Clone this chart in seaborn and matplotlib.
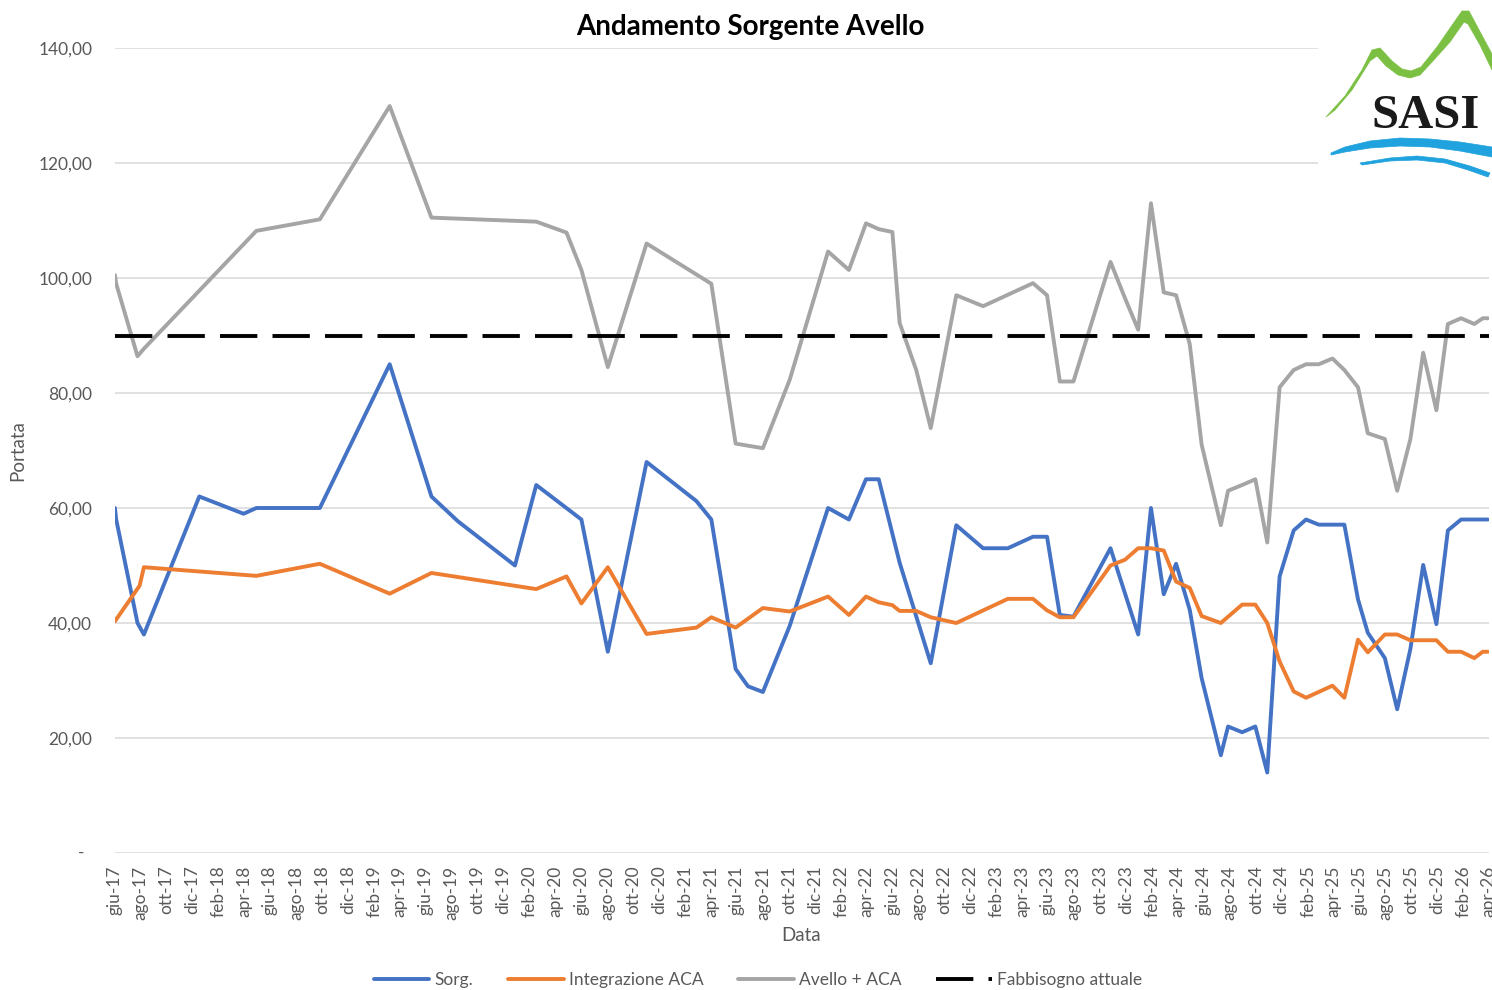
import matplotlib
matplotlib.use("Agg")
import matplotlib.pyplot as plt
import matplotlib.dates as mdates
from matplotlib.ticker import FuncFormatter, MultipleLocator
from matplotlib.lines import Line2D
from matplotlib.patches import Polygon
import pandas as pd
import seaborn as sns

# ---- data -------------------------------------------------------------
sorg_dates = [
    "2017-06-02", "2017-06-05", "2017-07-25", "2017-08-09", "2017-12-17",
    "2018-03-31", "2018-04-30", "2018-09-26", "2019-03-09", "2019-06-15",
    "2019-08-16", "2019-12-28", "2020-02-16", "2020-06-01", "2020-08-02",
    "2020-11-01", "2021-02-26", "2021-04-02", "2021-05-29", "2021-06-27",
    "2021-08-01", "2021-10-03", "2022-01-01", "2022-02-19", "2022-03-31",
    "2022-04-30", "2022-06-18", "2022-08-30", "2022-10-29", "2022-12-31",
    "2023-02-27", "2023-04-27", "2023-05-30", "2023-06-29", "2023-07-31",
    "2023-10-26", "2023-12-30", "2024-01-29", "2024-02-28", "2024-03-28",
    "2024-04-29", "2024-05-27", "2024-07-11", "2024-07-28", "2024-08-30",
    "2024-09-30", "2024-10-28", "2024-11-26", "2024-12-29", "2025-01-27",
    "2025-02-26", "2025-04-27", "2025-05-29", "2025-06-21", "2025-07-31",
    "2025-08-29", "2025-09-29", "2025-10-29", "2025-11-29", "2025-12-26",
    "2026-01-26", "2026-03-30",
]
sorg_values = [
    60, 58, 40, 38, 62,
    59, 60, 60, 85, 62,
    57.7, 50, 64, 58, 35,
    68, 61.2, 58, 32, 29,
    28, 39.5, 60, 58, 65,
    65, 50.5, 33, 57, 53,
    53, 55, 55, 41.4, 41.1,
    53, 38, 60, 45, 50.3,
    42.3, 30.4, 17, 22, 21,
    22, 14, 48.1, 56.1, 58,
    57.1, 57.1, 44.1, 38.3, 33.9,
    25, 35.5, 50.1, 39.8, 56.1,
    58, 58,
]

aca_dates = [
    "2017-06-02", "2017-07-30", "2017-08-09", "2018-04-30", "2018-09-26",
    "2019-03-09", "2019-06-15", "2020-02-16", "2020-04-27", "2020-06-01",
    "2020-08-02", "2020-11-01", "2021-02-26", "2021-04-02", "2021-05-29",
    "2021-08-01", "2021-10-03", "2022-01-01", "2022-02-19", "2022-03-31",
    "2022-04-30", "2022-06-01", "2022-06-18", "2022-07-27", "2022-08-30",
    "2022-10-29", "2023-02-27", "2023-04-27", "2023-05-30", "2023-06-29",
    "2023-07-31", "2023-10-26", "2023-11-29", "2023-12-30", "2024-01-29",
    "2024-02-28", "2024-03-28", "2024-04-29", "2024-05-27", "2024-07-11",
    "2024-08-30", "2024-09-30", "2024-10-28", "2024-11-26", "2024-12-29",
    "2025-01-27", "2025-03-30", "2025-04-27", "2025-05-29", "2025-06-21",
    "2025-07-31", "2025-08-29", "2025-09-29", "2025-11-29", "2025-12-26",
    "2026-01-26", "2026-02-26", "2026-03-18", "2026-03-30",
]
aca_values = [
    40.3, 46.5, 49.7, 48.2, 50.3,
    45.1, 48.7, 45.9, 48.1, 43.4,
    49.7, 38.1, 39.2, 41, 39.2,
    42.6, 42, 44.6, 41.4, 44.6,
    43.6, 43.1, 42.1, 42.1, 41,
    40, 44.2, 44.2, 42.2, 41,
    41, 50, 51, 53, 53,
    52.6, 47.2, 46.1, 41.2, 40,
    43.2, 43.2, 40, 33.3, 28.1,
    27, 29.1, 27, 37.1, 34.9,
    38, 38, 37, 37, 35,
    35, 33.9, 35, 35,
]

tot_dates = [
    "2017-06-02", "2017-06-05", "2017-07-25", "2017-08-09", "2018-04-30",
    "2018-09-26", "2019-03-09", "2019-06-15", "2020-02-16", "2020-04-27",
    "2020-06-01", "2020-08-02", "2020-11-01", "2021-04-02", "2021-05-29",
    "2021-08-01", "2021-10-03", "2022-01-01", "2022-02-19", "2022-03-31",
    "2022-04-30", "2022-06-01", "2022-06-18", "2022-07-27", "2022-08-30",
    "2022-10-29", "2022-12-31", "2023-04-27", "2023-05-30", "2023-06-29",
    "2023-07-31", "2023-10-26", "2023-11-29", "2023-12-30", "2024-01-29",
    "2024-02-28", "2024-03-28", "2024-04-29", "2024-05-27", "2024-07-11",
    "2024-07-28", "2024-08-30", "2024-09-30", "2024-10-28", "2024-11-26",
    "2024-12-29", "2025-01-27", "2025-02-26", "2025-03-30", "2025-04-27",
    "2025-05-29", "2025-06-21", "2025-07-31", "2025-08-29", "2025-09-29",
    "2025-10-29", "2025-11-29", "2025-12-26", "2026-01-26", "2026-02-26",
    "2026-03-18", "2026-03-30",
]
tot_values = [
    100.5, 99, 86.4, 87.7, 108.2,
    110.2, 129.9, 110.5, 109.8, 107.9,
    101.4, 84.5, 106, 99, 71.2,
    70.4, 82.3, 104.6, 101.4, 109.5,
    108.5, 108, 92.2, 84, 73.9,
    97, 95.1, 99.1, 97, 82,
    82, 102.8, 96.5, 91, 113,
    97.5, 97, 88.5, 71, 57,
    63, 64, 65, 54, 81,
    84, 85, 85, 86, 84,
    81, 73, 72, 63, 72,
    87, 77, 92, 93, 92,
    93, 93,
]

fabbisogno = 90.0

series_names = ["Sorg.", "Integrazione ACA", "Avello + ACA", "Fabbisogno attuale"]
series_colors = ["#4472C4", "#ED7D31", "#A5A5A5", "#000000"]
mesi = ["gen", "feb", "mar", "apr", "mag", "giu",
        "lug", "ago", "set", "ott", "nov", "dic"]

# ---- long-form table ----------------------------------------------------
frames = []
for name, d, v in zip(series_names[:3],
                      [sorg_dates, aca_dates, tot_dates],
                      [sorg_values, aca_values, tot_values]):
    frames.append(pd.DataFrame({"Data": pd.to_datetime(d),
                                "Portata": v, "serie": name}))
df = pd.concat(frames, ignore_index=True)

# ---- figure -------------------------------------------------------------
sns.set_theme(style="white")
plt.rcParams["font.family"] = ["Lato", "DejaVu Sans"]

W, H = 1492, 990
fig = plt.figure(figsize=(W / 100, H / 100), dpi=100)
ax = fig.add_axes([114.5 / W, 1 - 853 / H, (1489 - 114.5) / W, (853 - 48) / H])

lw = 2.8
sns.lineplot(data=df, x="Data", y="Portata", hue="serie",
             hue_order=series_names[:3], palette=series_colors[:3],
             estimator=None, linewidth=lw, legend=False, ax=ax)
for ln in ax.get_lines():
    ln.set_solid_joinstyle("round")
    ln.set_solid_capstyle("round")

dash = (0, (9.6, 3.9))
ax.axhline(fabbisogno, color=series_colors[3], linewidth=lw, linestyle=dash)

ax.set_ylim(0, 140)
ax.set_xlim(pd.Timestamp("2017-06-01"), pd.Timestamp("2026-04-01 12:00"))
ax.yaxis.set_major_locator(MultipleLocator(20))


def yfmt(v, pos):
    if abs(v) < 1e-9:
        return ""
    return f"{v:.2f}".replace(".", ",")


ax.yaxis.set_major_formatter(FuncFormatter(yfmt))
ax.xaxis.set_major_locator(mdates.MonthLocator(bymonth=[2, 4, 6, 8, 10, 12]))
ax.xaxis.set_major_formatter(FuncFormatter(
    lambda x, pos: "{}-{:02d}".format(mesi[mdates.num2date(x).month - 1],
                                      mdates.num2date(x).year % 100)))

grey_txt = "#595959"
ax.tick_params(axis="both", length=0, labelcolor=grey_txt, labelsize=12.5)
ax.tick_params(axis="y", pad=16)
ax.tick_params(axis="x", pad=9, labelrotation=90)
ax.grid(False)
ax.yaxis.grid(True, color="#D9D9D9", linewidth=1.1)
ax.set_axisbelow(True)
for s in ax.spines.values():
    s.set_visible(False)
ax.set_xlabel("")
ax.set_ylabel("")

# zero label shown as a dash (accounting format)
ax.text(-(114.5 - 81) / (1489 - 114.5), 0, "-", transform=ax.get_yaxis_transform(),
        ha="center", va="center", fontsize=12.5, color=grey_txt)

fig.text(17.5 / W, 1 - 451 / H, "Portata", rotation=90, ha="center", va="center",
         fontsize=13.5, color=grey_txt)
fig.text(801 / W, 1 - 935.5 / H, "Data", ha="center", va="center",
         fontsize=13.5, color=grey_txt)
fig.text(750 / W, 1 - 35 / H, "Andamento Sorgente Avello", ha="center",
         va="baseline", fontsize=20, fontweight="bold", color="black")

handles = [Line2D([], [], color=c, linewidth=lw) for c in series_colors[:3]]
handles.append(Line2D([], [], color=series_colors[3], linewidth=lw, linestyle=dash))
leg = fig.legend(handles, series_names, loc="center", ncol=4, frameon=False,
                 bbox_to_anchor=(758 / W, 1 - 980 / H), fontsize=12.5,
                 handlelength=3.2, handletextpad=0.3, columnspacing=2.0)
for t in leg.get_texts():
    t.set_color(grey_txt)

# ---- logo ---------------------------------------------------------------
logo = fig.add_axes([1318 / W, 1 - 186 / H, 174 / W, 186 / H])
logo.set_xlim(1318, 1492)
logo.set_ylim(186, 0)
logo.set_facecolor("white")
logo.set_xticks([])
logo.set_yticks([])
for s in logo.spines.values():
    s.set_visible(False)
logo.set_zorder(5)

green = "#7BC043"
mountain = [(1326, 117), (1345, 96), (1362, 70), (1372, 50), (1380, 48),
            (1392, 61), (1402, 69), (1411, 71), (1421, 67), (1437, 47),
            (1455, 21), (1462, 11), (1469, 11), (1478, 28), (1492, 54),
            (1492, 70), (1480, 45), (1468, 24), (1464, 22), (1450, 42),
            (1432, 62), (1420, 75), (1410, 78), (1398, 75), (1386, 66),
            (1377, 56), (1370, 61), (1352, 90), (1335, 110)]
logo.add_patch(Polygon(mountain, closed=True, facecolor=green, edgecolor=green,
                       linewidth=0.5))

blue = "#1FA2DD"
wave1 = [(1331, 153), (1345, 147), (1370, 141), (1400, 138), (1430, 139),
         (1460, 142), (1492, 147), (1492, 157), (1460, 151), (1430, 147),
         (1400, 146), (1370, 148), (1345, 152), (1331, 155)]
wave2 = [(1360, 163), (1390, 158), (1417, 156), (1445, 159), (1470, 166),
         (1490, 173), (1488, 177), (1468, 170), (1445, 163), (1417, 160),
         (1390, 161), (1362, 165)]
for w in (wave1, wave2):
    logo.add_patch(Polygon(w, closed=True, facecolor=blue, edgecolor=blue,
                           linewidth=0.5))

logo.text(1426, 128, "SASI", ha="center", va="baseline", fontsize=35,
          family="Liberation Serif", fontweight="bold", color="#1A1A1A")

fig.savefig("out.png", dpi=100, facecolor="white")
